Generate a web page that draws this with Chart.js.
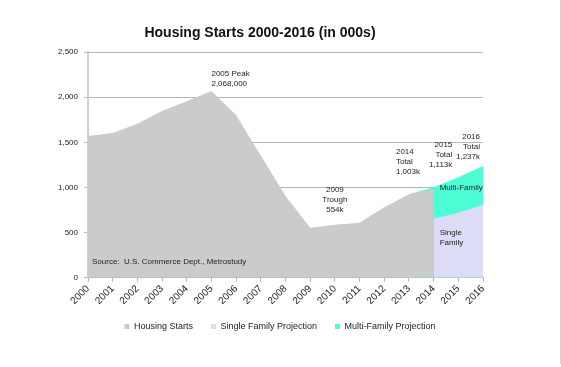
<!DOCTYPE html>
<html>
<head>
<meta charset="utf-8">
<script src="https://cdn.jsdelivr.net/npm/chart.js@4"></script>
<style>
  body { margin: 0; background: #fff; }
  #wrap { position: relative; width: 561px; height: 367px; }
  #startsChart { position: absolute; left: 0; top: 0; display: block; }
  #edge { position: absolute; left: 560px; top: 0; width: 1px; height: 364px; background: #d6d6d6; }
</style>
</head>
<body>
<div id="wrap">
  <canvas id="startsChart" width="560" height="367"></canvas>
  <div id="edge"></div>
</div>
<script>
// Data (thousands of units)
const years = ['2000', '2001', '2002', '2003', '2004', '2005', '2006', '2007', '2008',
               '2009', '2010', '2011', '2012', '2013', '2014', '2015', '2016'];
const housingStarts = [1569, 1603, 1705, 1848, 1956, 2068, 1801, 1355, 906,
                       554, 587, 609, 781, 925, 980, null, null];
const singleFamilyProjection = [null, null, null, null, null, null, null, null, null,
                                null, null, null, null, null, 655, 720, 810];
// top of the multi-family band = total projected starts
const totalProjection = [null, null, null, null, null, null, null, null, null,
                         null, null, null, null, 925, 1003, 1113, 1237];
const yTicks = [0, 500, 1000, 1500, 2000, 2500];

const FONT = "'Liberation Sans', Arial, sans-serif";
const TEXT = '#222';

// text notes placed on the chart: [lines, year index, y value, align, x offset]
const notes = [
    [['2005 Peak', '2,068,000'], 5, 2263, 'left', 0],
    [['2009', 'Trough', '554k'], 10, 978, 'center', 0],
    [['2014', 'Total', '1,003k'], 13, 1392, 'left', -13],
    [['2015', 'Total', '1,113k'], 15, 1470, 'right', -6],
    [['2016', 'Total', '1,237k'], 16, 1559, 'right', -3],
    [['Multi-Family'], 14, 1000, 'left', 6],
    [['Single', 'Family'], 14, 503, 'left', 6],
    [['Source:  U.S. Commerce Dept., Metrostudy'], 0, 178, 'left', 4]
];

const notesPlugin = {
    id: 'notes',
    afterDatasetsDraw(chart) {
        const ctx = chart.ctx;
        const x = chart.scales.x, y = chart.scales.y;
        ctx.save();
        ctx.font = '8px ' + FONT;
        ctx.fillStyle = TEXT;
        ctx.textBaseline = 'middle';
        notes.forEach(([lines, idx, val, align, dx]) => {
            ctx.textAlign = align;
            const px = x.getPixelForValue(idx) + dx;
            const py = y.getPixelForValue(val);
            lines.forEach((line, i) => ctx.fillText(line, px, py + i * 10));
        });
        ctx.restore();
    },
    afterDraw(chart) {
        const ctx = chart.ctx;
        ctx.save();
        ctx.font = 'bold 14px ' + FONT;
        ctx.fillStyle = '#111';
        ctx.textAlign = 'center';
        ctx.textBaseline = 'middle';
        ctx.fillText('Housing Starts 2000-2016 (in 000s)', 260, 33);
        ctx.restore();
    }
};

const ctx = document.getElementById('startsChart').getContext('2d');
const startsChart = new Chart(ctx, {
    type: 'line',
    data: {
        labels: years,
        datasets: [{
            label: 'Housing Starts',
            data: housingStarts,
            backgroundColor: '#cbcbcb',
            borderColor: '#cbcbcb',
            borderWidth: 0,
            fill: 'origin'
        }, {
            label: 'Single Family Projection',
            data: singleFamilyProjection,
            backgroundColor: '#dcdcf6',
            borderColor: '#dcdcf6',
            borderWidth: 0,
            fill: 'origin'
        }, {
            label: 'Multi-Family Projection',
            data: totalProjection,
            backgroundColor: '#4dfdd6',
            borderColor: '#4dfdd6',
            borderWidth: 0,
            fill: 'origin'
        }]
    },
    options: {
        responsive: false,
        animation: false,
        elements: { point: { radius: 0 }, line: { tension: 0 } },
        layout: { padding: { top: 52, bottom: 26, left: 0, right: 0 } },
        plugins: {
            title: { display: false },
            tooltip: { enabled: false },
            legend: {
                position: 'bottom',
                labels: {
                    boxWidth: 5,
                    boxHeight: 5,
                    padding: 18,
                    color: TEXT,
                    font: { family: FONT, size: 9 }
                }
            }
        },
        scales: {
            x: {
                offset: false,
                afterFit: s => { s.height -= 4; },
                grid: { drawOnChartArea: false, color: '#b5b5b5', tickLength: 4 },
                border: { color: '#b5b5b5' },
                ticks: {
                    minRotation: 45, maxRotation: 45, autoSkip: false,
                    color: TEXT, padding: 1,
                    font: { family: FONT, size: 10 }
                }
            },
            y: {
                min: 0, max: 2500,
                afterBuildTicks: s => { s.ticks = yTicks.map(v => ({ value: v })); },
                afterFit: s => { s.width = 88; },
                grid: { color: '#b5b5b5', tickLength: 4 },
                border: { color: '#cfcfcf', width: 2 },
                ticks: {
                    color: TEXT, padding: 6,
                    font: { family: FONT, size: 8 },
                    callback: v => v.toLocaleString('en-US')
                }
            },
            right: {
                position: 'right',
                display: true,
                grid: { display: false },
                border: { display: false },
                ticks: { display: false },
                afterFit: s => { s.width = 77; }
            }
        }
    },
    plugins: [notesPlugin]
});
</script>
</body>
</html>
